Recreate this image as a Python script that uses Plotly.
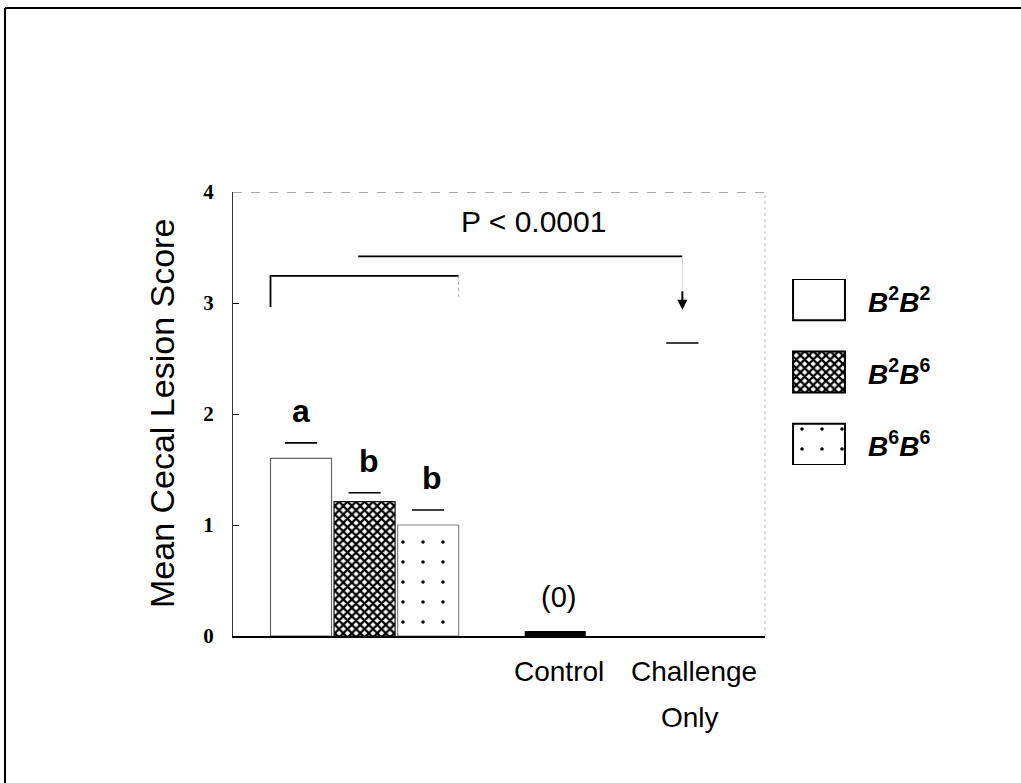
import plotly.graph_objects as go

# ---------------- data ----------------
genotypes = ["B2B2", "B2B6", "B6B6"]
genotype_labels = ["<b><i>B</i><sup>2</sup><i>B</i><sup>2</sup></b>",
                   "<b><i>B</i><sup>2</sup><i>B</i><sup>6</sup></b>",
                   "<b><i>B</i><sup>6</sup><i>B</i><sup>6</sup></b>"]
genotype_slots = [0, 1, 2]
genotype_means = [1.60, 1.21, 1.00]
genotype_se = [0.14, 0.08, 0.135]
genotype_letters = ["a", "b", "b"]

control_slot = 4
control_mean = 0.045
challenge_slot = 6
challenge_mean = 2.48
challenge_se = 0.16

y_ticks = [0, 1, 2, 3, 4]

# ---------------- styles ----------------
patterns = [
    dict(shape="", fgcolor="black", bgcolor="white"),
    dict(shape="x", size=6, solidity=0.6, fgcolor="black", bgcolor="white", fgopacity=1),
    dict(shape=".", size=20, solidity=0.025, fgcolor="black", bgcolor="white", fgopacity=1),
]
outline = ["#666666", "#111111", "#888888"]
BAR_W = 0.96

fig = go.Figure()

for i, g in enumerate(genotypes):
    fig.add_trace(go.Bar(
        x=[genotype_slots[i]], y=[genotype_means[i]], width=BAR_W, name=g,
        marker=dict(color="white", pattern=patterns[i],
                    line=dict(color=outline[i], width=1.2)),
        showlegend=False, xaxis="x", yaxis="y"))

fig.add_trace(go.Bar(
    x=[control_slot], y=[control_mean], width=BAR_W, name="Control",
    marker=dict(color="black", line=dict(width=0)),
    showlegend=False, xaxis="x", yaxis="y"))

fig.add_trace(go.Bar(
    x=[challenge_slot], y=[challenge_mean], width=BAR_W, name="Challenge Only",
    marker=dict(color="white", line=dict(width=0)),
    showlegend=False, xaxis="x", yaxis="y"))

# error-bar caps (mean + SE), drawn as horizontal ticks as in the original
cap_x = genotype_slots + [challenge_slot]
cap_y = [m + s for m, s in zip(genotype_means, genotype_se)] + [challenge_mean + challenge_se]
fig.add_trace(go.Scatter(
    x=cap_x, y=cap_y, mode="markers", showlegend=False, hoverinfo="skip",
    marker=dict(symbol="line-ew", size=23, color="black",
                line=dict(width=1.6, color="black")),
    xaxis="x", yaxis="y"))

# legend swatches drawn as bars on a small auxiliary axis
for i, g in enumerate(genotypes):
    fig.add_trace(go.Bar(
        x=[1], y=[i], base=0, orientation="h", width=0.567,
        marker=dict(color="white", pattern=patterns[i],
                    line=dict(color="black", width=2)),
        showlegend=False, xaxis="x2", yaxis="y2", hoverinfo="skip"))

PW = 767.0  # paper width in px
PH = 444.0  # paper height in px

fig.update_layout(
    width=1021, height=783,
    margin=dict(l=233, r=21, t=192, b=147, pad=0),
    paper_bgcolor="white", plot_bgcolor="white",
    barmode="overlay",
    font=dict(family="Liberation Sans, Arial, sans-serif", color="black"),
    xaxis=dict(domain=[0, 532 / PW], range=[-1.07, 7.3], showticklabels=False,
               ticks="", showgrid=False, zeroline=False, showline=True,
               linecolor="black", linewidth=2),
    yaxis=dict(range=[0, 4], tickvals=y_ticks, ticks="inside", ticklen=6,
               tickcolor="black", tickwidth=1, showgrid=False, zeroline=False,
               showline=True, linecolor="#333333", linewidth=1,
               ticklabelstandoff=14,
               tickfont=dict(family="Liberation Serif, serif", size=21,
                             color="black", weight="bold")),
    xaxis2=dict(domain=[(792 - 233) / PW, (846 - 233) / PW], range=[-0.02, 1.02],
                visible=False, anchor="y2"),
    yaxis2=dict(domain=[(636 - 465) / PH, (636 - 279) / PH],
                range=[2.285, -0.285], visible=False, anchor="x2"),
)

shapes = []
# outer frame of the scanned page: only top and left edges are visible
frame_left = (5 - 233) / PW
frame_top = (636 - 8) / PH
shapes.append(dict(type="line", xref="paper", yref="paper",
                   x0=frame_left, x1=(1021 - 233) / PW, y0=frame_top, y1=frame_top,
                   line=dict(color="black", width=2)))
shapes.append(dict(type="line", xref="paper", yref="paper",
                   x0=frame_left, x1=frame_left, y0=frame_top, y1=(636 - 783) / PH,
                   line=dict(color="black", width=2)))
# top and right box edges (faint, dashed as in the scan)
shapes.append(dict(type="line", xref="x domain", yref="y", x0=0, x1=1, y0=4, y1=4,
                   line=dict(color="#555555", width=1.2, dash="dash")))
shapes.append(dict(type="line", xref="x domain", yref="y", x0=1, x1=1, y0=0, y1=4,
                   line=dict(color="#bbbbbb", width=1, dash="dot")))

left_edge = genotype_slots[0] - BAR_W / 2
right_edge = genotype_slots[-1] + BAR_W / 2
group_center = sum(genotype_slots) / len(genotype_slots)
# bracket over the three genotype bars
shapes.append(dict(type="path", xref="x", yref="y",
                   path=f"M {left_edge},2.965 L {left_edge},3.245 L {right_edge},3.245",
                   line=dict(color="black", width=1.8)))
shapes.append(dict(type="line", xref="x", yref="y", x0=right_edge, x1=right_edge,
                   y0=3.245, y1=3.03, line=dict(color="#aaaaaa", width=1, dash="dot")))
# comparison line to Challenge Only
shapes.append(dict(type="line", xref="x", yref="y", x0=group_center - 0.1,
                   x1=challenge_slot, y0=3.42, y1=3.42,
                   line=dict(color="black", width=1.8)))
shapes.append(dict(type="line", xref="x", yref="y", x0=challenge_slot,
                   x1=challenge_slot, y0=3.42, y1=3.12,
                   line=dict(color="#dddddd", width=1)))
fig.update_layout(shapes=shapes)

ann = []
# y-axis title
ann.append(dict(text="Mean Cecal Lesion Score", xref="paper", yref="paper",
                x=(162 - 233) / PW, y=0.5, textangle=-90, showarrow=False,
                xanchor="center", yanchor="middle",
                font=dict(size=34, family="Liberation Sans, Arial, sans-serif")))
# significance letters
for i, lt in enumerate(genotype_letters):
    ann.append(dict(text=f"<b>{lt}</b>", x=genotype_slots[i],
                    y=genotype_means[i] + genotype_se[i], xref="x", yref="y",
                    yanchor="bottom", yshift=12, xshift=4 if i else 0,
                    showarrow=False, font=dict(size=32)))
ann.append(dict(text="(0)", x=control_slot, y=control_mean, xref="x", yref="y",
                yanchor="bottom", yshift=16, xshift=3, showarrow=False,
                font=dict(size=29)))
# category labels
ann.append(dict(text="Control", x=control_slot, y=0, xref="x", yref="y",
                yanchor="middle", yshift=-35, xshift=4, showarrow=False,
                font=dict(size=28)))
ann.append(dict(text="Challenge", x=challenge_slot, y=0, xref="x", yref="y",
                yanchor="middle", yshift=-35, xshift=12, showarrow=False,
                font=dict(size=28)))
ann.append(dict(text="Only", x=challenge_slot, y=0, xref="x", yref="y",
                yanchor="middle", yshift=-81, xshift=8, showarrow=False,
                font=dict(size=28)))
# p-value
ann.append(dict(text="P < 0.0001", x=3.65, y=3.73, xref="x", yref="y",
                showarrow=False, xanchor="center", yanchor="middle",
                font=dict(size=30)))
# arrow to Challenge Only
ann.append(dict(text="", x=challenge_slot, y=2.94, ax=challenge_slot, ay=3.12,
                xref="x", yref="y", axref="x", ayref="y", showarrow=True,
                arrowhead=2, arrowsize=1, arrowwidth=2, arrowcolor="black"))
# legend labels
for i, lab in enumerate(genotype_labels):
    ann.append(dict(text=lab, xref="paper", yref="y2", x=(866 - 233) / PW, y=i,
                    xanchor="left", yanchor="middle", showarrow=False,
                    font=dict(size=28)))
fig.update_layout(annotations=ann)

fig.write_html("out.html", config={"displayModeBar": False},
               post_script="document.body.style.margin='0px';")
